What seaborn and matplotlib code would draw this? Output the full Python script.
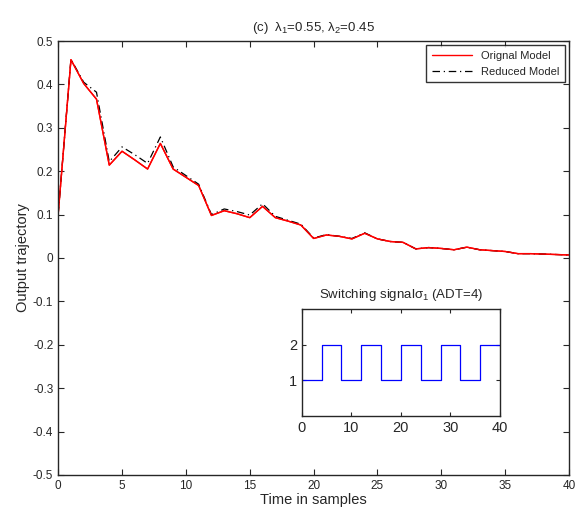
import numpy as np
import pandas as pd
import seaborn as sns
import matplotlib.pyplot as plt

# Sample index and the two output trajectories
samples = list(range(41))
original = [0.101, 0.457, 0.402, 0.366, 0.214, 0.246, 0.226, 0.205, 0.264, 0.205,
            0.186, 0.167, 0.098, 0.109, 0.102, 0.093, 0.119, 0.093, 0.085, 0.076,
            0.045, 0.053, 0.050, 0.044, 0.057, 0.044, 0.038, 0.036, 0.021, 0.024,
            0.022, 0.019, 0.025, 0.019, 0.017, 0.015, 0.010, 0.010, 0.009, 0.008,
            0.007]
reduced = [0.101, 0.458, 0.405, 0.382, 0.222, 0.256, 0.238, 0.218, 0.279, 0.210,
           0.190, 0.170, 0.100, 0.113, 0.107, 0.099, 0.125, 0.096, 0.087, 0.078,
           0.046, 0.054, 0.050, 0.045, 0.058, 0.044, 0.038, 0.036, 0.021, 0.024,
           0.022, 0.019, 0.025, 0.019, 0.017, 0.015, 0.010, 0.010, 0.009, 0.008,
           0.007]

# Switching signal (ADT=4)
switch_times = [0, 4, 8, 12, 16, 20, 24, 28, 32, 36, 40]
switch_modes = [1, 2, 1, 2, 1, 2, 1, 2, 1, 2, 2]

y_ticks = [-0.5, -0.4, -0.3, -0.2, -0.1, 0, 0.1, 0.2, 0.3, 0.4, 0.5]
y_ticklabels = ["-0.5", "-0.4", "-0.3", "-0.2", "-0.1", "0", "0.1", "0.2", "0.3", "0.4", "0.5"]
x_ticks = [0, 5, 10, 15, 20, 25, 30, 35, 40]

sns.set_style("ticks")
plt.rcParams["font.family"] = ["Liberation Sans", "DejaVu Sans"]
plt.rcParams["mathtext.fontset"] = "custom"
plt.rcParams["mathtext.rm"] = "Liberation Sans"
plt.rcParams["mathtext.it"] = "Liberation Sans"
plt.rcParams["xtick.direction"] = "in"
plt.rcParams["ytick.direction"] = "in"

df = pd.DataFrame({"t": samples, "orig": original, "red": reduced})

fig = plt.figure(figsize=(5.76, 5.16), dpi=100)
ax = fig.add_axes([0.101, 0.0795, 0.887, 0.841])

sns.lineplot(data=df, x="t", y="orig", ax=ax, color="#ff0000", lw=1.0, label="Orignal Model")
sns.lineplot(data=df, x="t", y="red", ax=ax, color="black", lw=0.9,
             linestyle=(0, (6, 3, 1, 3)), label="Reduced Model")
# draw red on top again
sns.lineplot(data=df, x="t", y="orig", ax=ax, color="#ff0000", lw=1.0, legend=False)

ax.set_xlim(0, 40)
ax.set_ylim(-0.5, 0.5)
ax.set_xticks(x_ticks)
ax.set_yticks(y_ticks)
ax.set_yticklabels(y_ticklabels)
ax.tick_params(labelsize=8.5, top=True, right=True, length=4, width=0.8)
ax.set_xlabel("Time in samples", fontsize=10.5, labelpad=1)
ax.set_ylabel("Output trajectory", fontsize=10.5, labelpad=2)
ax.set_title(r"(c)  $\lambda_1$=0.55, $\lambda_2$=0.45", fontsize=9.5, pad=7)
for s in ax.spines.values():
    s.set_linewidth(1.0)

handles, labels = ax.get_legend_handles_labels()
leg = ax.legend(handles[:2], labels[:2], loc="upper right", fontsize=8, frameon=True,
                fancybox=False, edgecolor="black", handlelength=3.6,
                borderaxespad=0.4, labelspacing=0.5, borderpad=0.5)
leg.get_frame().set_linewidth(1.0)

# inset with the switching signal
ins = fig.add_axes([0.524, 0.194, 0.344, 0.207])
sns.lineplot(x=switch_times, y=switch_modes, ax=ins, color="#0000ff", lw=0.9,
             drawstyle="steps-post")
ins.set_xlim(0, 40)
ins.set_ylim(0, 3)
ins.set_xticks([0, 10, 20, 30, 40])
ins.set_yticks([1, 2])
ins.tick_params(labelsize=10.5, top=True, right=True, length=3, width=0.8)
ins.set_title(r"Switching signal$\sigma_1$ (ADT=4)", fontsize=9.5, pad=8)
for s in ins.spines.values():
    s.set_linewidth(1.0)

fig.savefig("out.png", dpi=100)
